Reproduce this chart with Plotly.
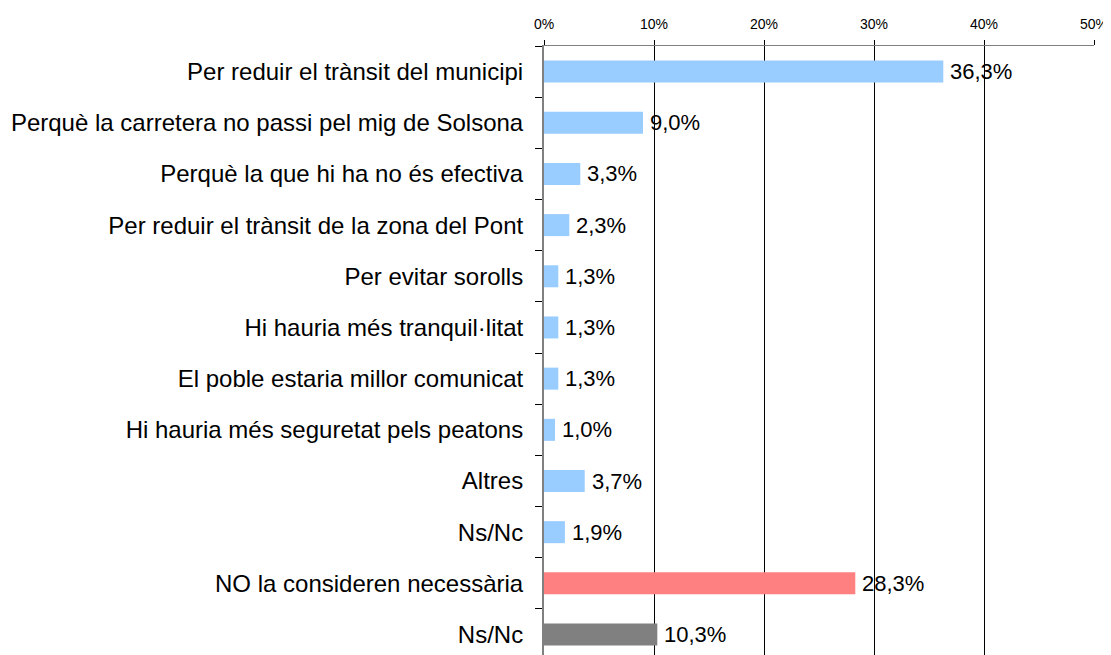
import plotly.graph_objects as go

categories = [
    "Per reduir el trànsit del municipi",
    "Perquè la carretera no passi pel mig de Solsona",
    "Perquè la que hi ha no és efectiva",
    "Per reduir el trànsit de la zona del Pont",
    "Per evitar sorolls",
    "Hi hauria més tranquil·litat",
    "El poble estaria millor comunicat",
    "Hi hauria més seguretat pels peatons",
    "Altres",
    "Ns/Nc",
    "NO la consideren necessària",
    "Ns/Nc",
]
values = [36.3, 9.0, 3.3, 2.3, 1.3, 1.3, 1.3, 1.0, 3.7, 1.9, 28.3, 10.3]
groups = ["si"] * 10 + ["no", "nsnc"]
group_colors = {"si": "#99CCFF", "no": "#FF8080", "nsnc": "#808080"}
x_ticks = [0, 10, 20, 30, 40, 50]

positions = list(range(len(categories)))
labels = [f"{v:.1f}".replace(".", ",") + "%" for v in values]
colors = [group_colors[g] for g in groups]

FONT = "Liberation Sans, Arial"

fig = go.Figure(
    go.Bar(
        x=values,
        y=positions,
        orientation="h",
        marker=dict(color=colors, line=dict(width=0)),
        width=0.43,
        hoverinfo="skip",
    )
)

for v, p, t in zip(values, positions, labels):
    fig.add_annotation(
        x=v, y=p, text=t, showarrow=False,
        xanchor="left", yanchor="middle", xshift=5,
        font=dict(family=FONT, size=22, color="black"),
    )

# page body has an 8px default margin, so the figure is sized to fit the window
fig.update_layout(
    width=1103,
    height=647,
    margin=dict(l=536, r=17, t=38, b=0, autoexpand=False),
    paper_bgcolor="white",
    plot_bgcolor="white",
    showlegend=False,
    font=dict(family=FONT, color="black"),
)

fig.update_xaxes(
    side="top",
    range=[0, 50],
    tickvals=x_ticks,
    ticktext=[f"{t}%" for t in x_ticks],
    tickfont=dict(size=14, color="black"),
    ticklabelstandoff=5,
    showgrid=True,
    gridcolor="black",
    gridwidth=1,
    zeroline=False,
    showline=True,
    linecolor="#808080",
    linewidth=1,
    ticks="outside",
    ticklen=5,
    tickcolor="black",
    automargin=False,
    fixedrange=True,
)

fig.update_yaxes(
    range=[len(categories) - 0.6, -0.5],
    tickvals=positions,
    ticktext=categories,
    tickfont=dict(size=24, color="black"),
    ticks="",
    ticklabelstandoff=14,
    showgrid=False,
    zeroline=False,
    showline=True,
    linecolor="#808080",
    linewidth=2,
    minor=dict(
        tickvals=[p - 0.5 for p in positions],
        ticks="outside",
        ticklen=7,
        tickcolor="black",
        showgrid=False,
    ),
    automargin=False,
    fixedrange=True,
)

fig.write_html("out.html")
